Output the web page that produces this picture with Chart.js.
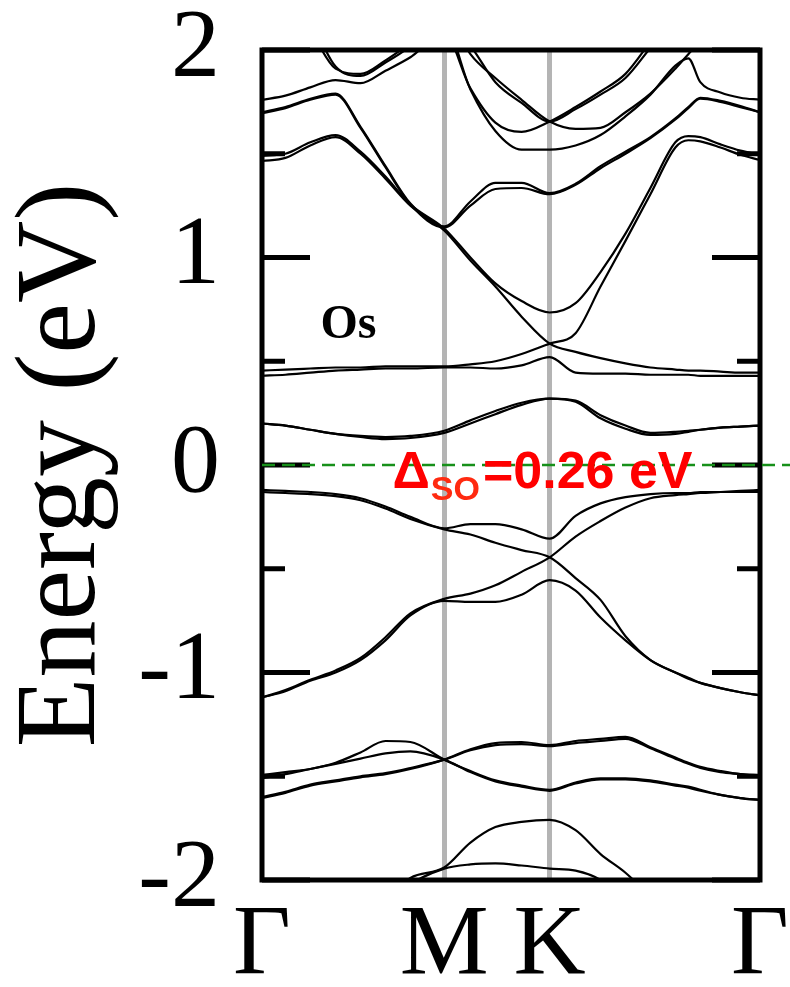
<!DOCTYPE html>
<html lang="en">
<head>
<meta charset="UTF-8">
<title>Os band structure</title>
<script src="https://cdn.jsdelivr.net/npm/chart.js"></script>
<style>
  body { margin: 0; background: #fff; }
  canvas { display: block; }
</style>
</head>
<body>
<canvas id="bands" width="790" height="987"></canvas>
<script>
// k-path G-M-K-G of the hexagonal zone (units of 2pi/a)
const kPath = [0, 0.074, 0.153, 0.233, 0.312, 0.391, 0.470, 0.577, 0.660, 0.739, 0.822,
               0.911, 0.993, 1.072, 1.151, 1.230, 1.309, 1.350, 1.388, 1.452, 1.515, 1.577];
const kTicks = [0, 0.577, 0.911, 1.577];
const kLabels = ['Γ', 'M', 'K', 'Γ'];
const eMajor = [-2, -1, 0, 1, 2];
const eMinor = [-1.5, -0.5, 0.5, 1.5];

// band energies (eV) along kPath, values above 2 / below -2 run off the window
const top1 = [1.76, 1.78, 1.82, 1.855, 1.84, 1.90, 1.965, 2.08, 1.815, 1.65, 1.605, 1.655, 1.725, 1.80, 1.885, 2.04, 2.2, 2.25, 2.3, 2.35, 2.4, 2.4];
const top2 = [2.4, 2.3, 2.1, 1.91, 1.885, 1.95, 2.03, 2.12, 1.81, 1.61, 1.52, 1.52, 1.54, 1.59, 1.68, 1.785, 1.925, 1.96, 1.845, 1.795, 1.77, 1.76];
const top3 = [2.45, 2.35, 2.15, 1.92, 1.875, 1.94, 2.02, 2.2, 1.98, 1.865, 1.76, 1.655, 1.62, 1.625, 1.70, 1.79, 1.91, 1.98, 2.04, 2.1, 2.15, 2.2];
const top4 = [2.5, 2.5, 2.45, 2.4, 2.35, 2.3, 2.25, 2.15, 2.02, 1.845, 1.745, 1.655, 1.715, 1.785, 1.865, 2.01, 2.15, 2.2, 2.25, 2.3, 2.35, 2.35];
const mid1 = [1.70, 1.725, 1.765, 1.79, 1.63, 1.44, 1.26, 1.15, 1.27, 1.36, 1.36, 1.31, 1.355, 1.44, 1.51, 1.58, 1.67, 1.725, 1.77, 1.755, 1.73, 1.70];
const mid2 = [1.695, 1.72, 1.76, 1.785, 1.625, 1.435, 1.255, 1.145, 1.25, 1.33, 1.335, 1.305, 1.35, 1.43, 1.50, 1.575, 1.665, 1.72, 1.765, 1.75, 1.725, 1.70];
const bandP = [1.49, 1.50, 1.555, 1.59, 1.51, 1.39, 1.255, 1.14, 1.00, 0.875, 0.79, 0.735, 0.78, 0.93, 1.115, 1.335, 1.555, 1.585, 1.58, 1.545, 1.515, 1.495];
const bandQ = [1.465, 1.48, 1.54, 1.58, 1.50, 1.38, 1.25, 1.13, 0.985, 0.86, 0.715, 0.585, 0.545, 0.515, 0.49, 0.47, 0.46, 0.455, 0.455, 0.45, 0.445, 0.445];
const flat1 = [0.455, 0.46, 0.465, 0.47, 0.47, 0.475, 0.475, 0.475, 0.485, 0.50, 0.535, 0.585, 0.635, 0.86, 1.08, 1.305, 1.53, 1.565, 1.56, 1.53, 1.495, 1.47];
const flat2 = [0.43, 0.435, 0.445, 0.455, 0.46, 0.465, 0.465, 0.47, 0.47, 0.465, 0.48, 0.52, 0.445, 0.44, 0.44, 0.435, 0.435, 0.435, 0.43, 0.43, 0.43, 0.43];
const cond1 = [0.20, 0.19, 0.17, 0.15, 0.14, 0.135, 0.14, 0.165, 0.215, 0.26, 0.30, 0.32, 0.31, 0.24, 0.19, 0.155, 0.16, 0.165, 0.17, 0.18, 0.185, 0.19];
const cond2 = [0.20, 0.19, 0.17, 0.15, 0.135, 0.125, 0.13, 0.155, 0.20, 0.245, 0.29, 0.32, 0.305, 0.225, 0.175, 0.145, 0.15, 0.16, 0.17, 0.18, 0.185, 0.19];
const val1 = [-0.12, -0.125, -0.13, -0.14, -0.16, -0.20, -0.25, -0.305, -0.285, -0.285, -0.31, -0.355, -0.245, -0.185, -0.155, -0.14, -0.135, -0.135, -0.13, -0.13, -0.13, -0.13];
const val2 = [-0.13, -0.135, -0.14, -0.15, -0.17, -0.21, -0.26, -0.31, -0.335, -0.375, -0.41, -0.445, -0.545, -0.65, -0.825, -0.94, -1.0, -1.03, -1.05, -1.075, -1.095, -1.11];
const val3 = [-1.12, -1.085, -1.035, -0.99, -0.93, -0.83, -0.715, -0.645, -0.62, -0.58, -0.515, -0.445, -0.345, -0.27, -0.205, -0.16, -0.145, -0.14, -0.135, -0.13, -0.125, -0.12];
const val4 = [-1.12, -1.09, -1.04, -1.0, -0.94, -0.845, -0.725, -0.655, -0.66, -0.66, -0.625, -0.555, -0.605, -0.735, -0.845, -0.94, -1.0, -1.025, -1.05, -1.075, -1.095, -1.11];
const deep1 = [-1.495, -1.48, -1.465, -1.435, -1.385, -1.33, -1.335, -1.42, -1.475, -1.52, -1.545, -1.565, -1.53, -1.51, -1.51, -1.52, -1.54, -1.55, -1.565, -1.59, -1.605, -1.615];
const deep2 = [-1.51, -1.49, -1.465, -1.44, -1.415, -1.39, -1.38, -1.42, -1.48, -1.525, -1.55, -1.57, -1.535, -1.515, -1.515, -1.525, -1.545, -1.555, -1.57, -1.59, -1.605, -1.615];
const deep3 = [-1.605, -1.58, -1.545, -1.525, -1.505, -1.49, -1.465, -1.42, -1.37, -1.34, -1.335, -1.35, -1.33, -1.32, -1.31, -1.36, -1.41, -1.435, -1.455, -1.475, -1.49, -1.495];
const deep4 = [-1.60, -1.575, -1.54, -1.52, -1.50, -1.485, -1.46, -1.42, -1.375, -1.35, -1.345, -1.355, -1.34, -1.33, -1.32, -1.365, -1.415, -1.44, -1.46, -1.48, -1.49, -1.50];
const low1 = [-2.4, -2.35, -2.3, -2.25, -2.2, -2.1, -1.99, -1.94, -1.82, -1.745, -1.72, -1.71, -1.76, -1.875, -1.965, -2.08, -2.2, -2.25, -2.3, -2.35, -2.4, -2.4];
const low2 = [-2.4, -2.35, -2.3, -2.25, -2.2, -2.12, -2.02, -1.945, -1.925, -1.92, -1.93, -1.945, -1.955, -2.0, -2.1, -2.2, -2.25, -2.3, -2.35, -2.4, -2.4, -2.4];

const bands = [top1, top2, top3, top4, mid1, mid2, bandP, bandQ, flat1, flat2,
               cond1, cond2, val1, val2, val3, val4, deep1, deep2, deep3, deep4, low1, low2];

// annotation anchors in (k, E)
const elementLabel = { text: 'Os', k: 0.185, e: 0.614 };
const gapLabel = { k: 0.413, e: -0.113, value: '=0.26 eV' };

const serif = 'Liberation Serif, Times New Roman, serif';
const sans = 'Liberation Sans, Arial, sans-serif';

const decor = {
  id: 'decor',
  afterDatasetsDraw(chart) {
    const { ctx, chartArea: a, scales: { y } } = chart;
    ctx.save();
    ctx.strokeStyle = '#000';
    ctx.lineWidth = 5;
    ctx.beginPath();
    const tick = (v, len) => {
      const py = y.getPixelForValue(v);
      ctx.moveTo(a.left, py); ctx.lineTo(a.left + len, py);
      ctx.moveTo(a.right - len, py); ctx.lineTo(a.right, py);
    };
    eMajor.forEach(v => tick(v, 48));
    eMinor.forEach(v => tick(v, 23));
    ctx.stroke();
    ctx.strokeRect(a.left, a.top, a.right - a.left, a.bottom - a.top);
    ctx.restore();
  },
  afterDraw(chart) {
    const { ctx, chartArea: a, scales: { x, y } } = chart;
    ctx.save();
    // Fermi level
    const y0 = y.getPixelForValue(0);
    ctx.strokeStyle = '#17901a';
    ctx.lineWidth = 2.5;
    ctx.setLineDash([13, 7]);
    ctx.beginPath();
    ctx.moveTo(a.left, y0);
    ctx.lineTo(chart.width, y0);
    ctx.stroke();
    ctx.setLineDash([]);

    ctx.fillStyle = '#000';
    ctx.font = 'bold 48px ' + serif;
    ctx.textBaseline = 'alphabetic';
    ctx.fillText(elementLabel.text, x.getPixelForValue(elementLabel.k), y.getPixelForValue(elementLabel.e));

    let gx = x.getPixelForValue(gapLabel.k);
    const gy = y.getPixelForValue(gapLabel.e);
    ctx.fillStyle = '#ff0000';
    ctx.font = 'bold 52px ' + sans;
    ctx.fillText('Δ', gx, gy);
    gx += ctx.measureText('Δ').width + 1;
    ctx.font = 'bold 34px ' + sans;
    ctx.fillStyle = '#ff2a10';
    ctx.fillText('SO', gx, gy + 12);
    gx += ctx.measureText('SO').width + 3;
    ctx.font = 'bold 52px ' + sans;
    ctx.fillStyle = '#ff0000';
    ctx.fillText(gapLabel.value, gx, gy);
    ctx.restore();
  }
};

new Chart(document.getElementById('bands'), {
  type: 'line',
  data: {
    datasets: bands.map(b => ({
      data: b.map((e, i) => ({ x: kPath[i], y: e })),
      borderColor: '#000',
      borderWidth: 2.2,
      pointRadius: 0,
      fill: false,
      cubicInterpolationMode: 'monotone',
      clip: 0
    }))
  },
  options: {
    responsive: false,
    animation: false,
    events: [],
    layout: { padding: { left: 0, top: 50, right: 30, bottom: 0 } },
    plugins: { legend: { display: false }, tooltip: { enabled: false } },
    scales: {
      x: {
        type: 'linear',
        min: 0,
        max: kTicks[kTicks.length - 1],
        afterBuildTicks: s => { s.ticks = kTicks.map(value => ({ value })); },
        // fixed band height; labels may hang past the plot edges
        afterFit: s => { s.height = 107; s.paddingLeft = 0; s.paddingRight = 0; },
        border: { display: false },
        grid: {
          drawTicks: false,
          lineWidth: 5,
          color: c => (c.index > 0 && c.index < kTicks.length - 1) ? '#b4b4b4' : 'rgba(0,0,0,0)'
        },
        ticks: {
          autoSkip: false,
          maxRotation: 0,
          padding: 17,
          color: '#000',
          font: { family: serif, size: 100, lineHeight: 1 },
          callback: (v, i) => kLabels[i]
        }
      },
      y: {
        min: -2,
        max: 2,
        afterFit: s => { s.width = 262; s.paddingTop = 0; s.paddingBottom = 0; },
        border: { display: false },
        grid: { display: false, drawTicks: false },
        ticks: {
          stepSize: 1,
          padding: 42,
          color: '#000',
          font: { family: serif, size: 98, lineHeight: 1 }
        },
        title: {
          display: true,
          text: 'Energy (eV)',
          color: '#000',
          padding: { top: 7, bottom: 0 },
          font: { family: serif, size: 114, lineHeight: 1 }
        }
      }
    }
  },
  plugins: [decor]
});
</script>
</body>
</html>
